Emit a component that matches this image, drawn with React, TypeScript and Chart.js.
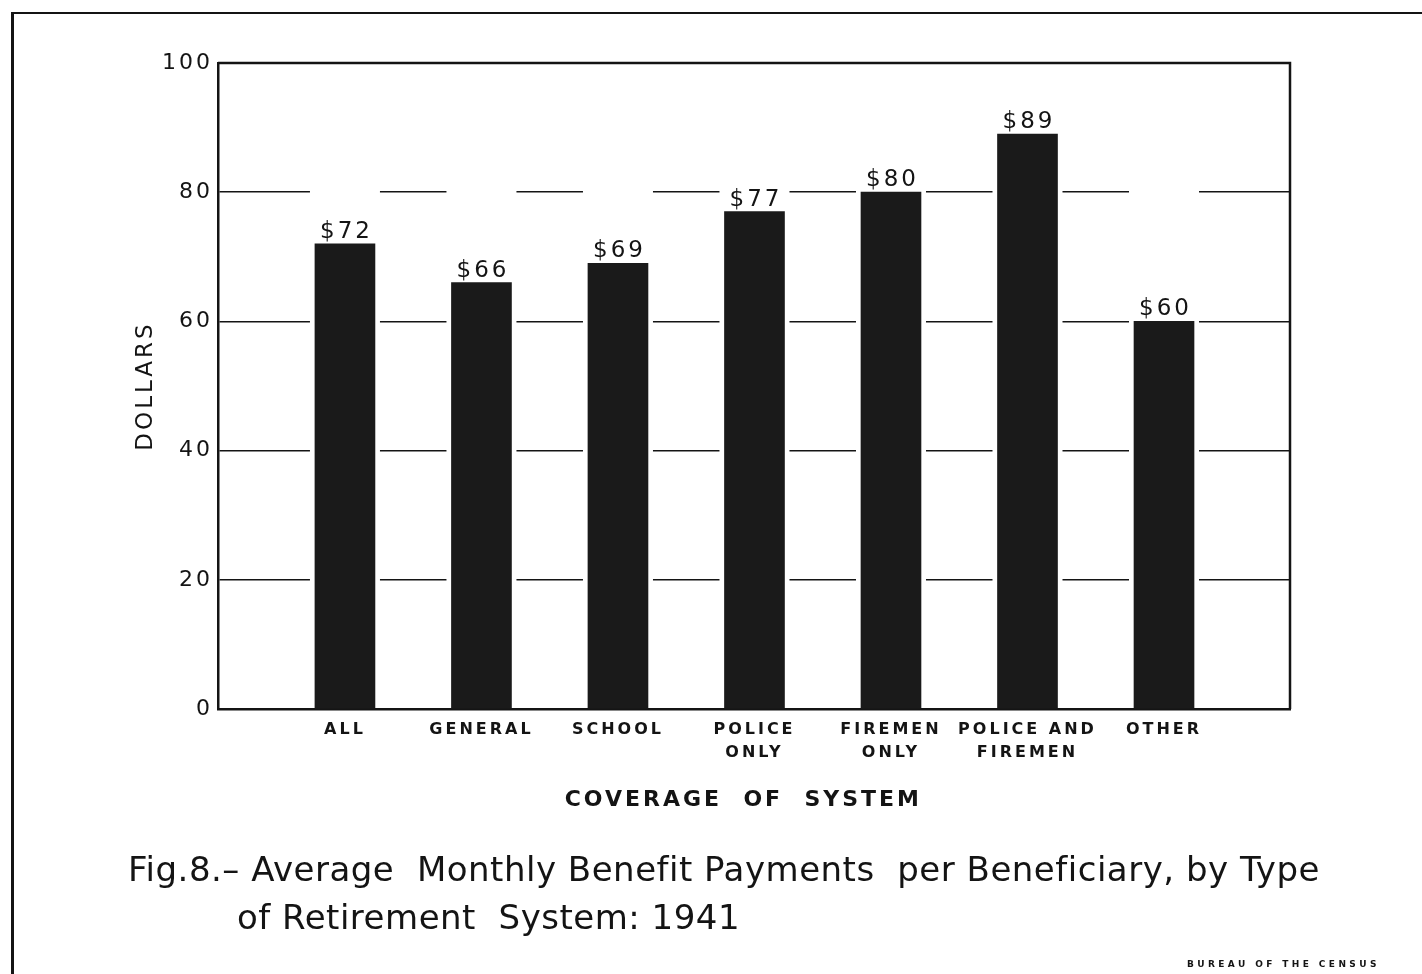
import { useEffect, useRef } from "react";
import { Chart, registerables } from "chart.js";

Chart.register(...registerables);

const categories: string[][] = [
  ["ALL"],
  ["GENERAL"],
  ["SCHOOL"],
  ["POLICE", "ONLY"],
  ["FIREMEN", "ONLY"],
  ["POLICE AND", "FIREMEN"],
  ["OTHER"],
];
const values: number[] = [72, 66, 69, 77, 80, 89, 60];
const valueLabels: string[] = ["$72", "$66", "$69", "$77", "$80", "$89", "$60"];
const yTicks: number[] = [0, 20, 40, 60, 80, 100];

const FONT = '"DejaVu Sans", "Liberation Sans", sans-serif';
const INK = "#141414";

const decor = {
  id: "decor",
  beforeLayout(chart: any) {
    chart.ctx.letterSpacing = "3px";
  },
  beforeDraw(chart: any) {
    chart.ctx.letterSpacing = "3px";
  },
  beforeDatasetsDraw(chart: any) {
    const { ctx, chartArea } = chart;
    const meta = chart.getDatasetMeta(0);
    ctx.save();
    ctx.fillStyle = "#ffffff";
    meta.data.forEach((bar: any) => {
      const w = bar.width;
      ctx.fillRect(bar.x - w / 2 - 5, chartArea.top + 2, w + 10, chartArea.bottom - chartArea.top - 4);
    });
    ctx.restore();
  },
  afterDatasetsDraw(chart: any) {
    const { ctx, chartArea } = chart;
    ctx.save();
    ctx.strokeStyle = INK;
    ctx.lineWidth = 2.5;
    ctx.beginPath();
    ctx.moveTo(chartArea.left, chartArea.top);
    ctx.lineTo(chartArea.right, chartArea.top);
    ctx.lineTo(chartArea.right, chartArea.bottom);
    ctx.stroke();
    ctx.letterSpacing = "3px";
    ctx.fillStyle = INK;
    ctx.font = `normal 23px ${FONT}`;
    ctx.textAlign = "center";
    ctx.textBaseline = "alphabetic";
    const meta = chart.getDatasetMeta(0);
    meta.data.forEach((bar: any, i: number) => {
      ctx.fillText(valueLabels[i], bar.x + 1.5, bar.y - 6);
    });
    ctx.restore();
  },
};

export default function App() {
  const ref = useRef<HTMLCanvasElement | null>(null);

  useEffect(() => {
    if (!ref.current) return;
    const chart = new Chart(ref.current, {
      type: "bar",
      data: {
        datasets: [
          {
            data: values.map((v, i) => ({ x: i, y: v })),
            backgroundColor: "#1a1a1a",
            borderWidth: 0,
            barThickness: 60,
          },
        ],
      },
      options: {
        responsive: false,
        animation: false,
        layout: { padding: { left: 0, top: 63, right: 132, bottom: 155 } },
        plugins: {
          legend: { display: false },
          title: { display: false },
          tooltip: { enabled: false },
        },
        scales: {
          x: {
            type: "linear",
            min: -0.93,
            max: 6.923,
            offset: false,
            afterBuildTicks: (scale: any) => {
              scale.ticks = categories.map((_, i) => ({ value: i }));
            },
            afterFit: (scale: any) => {
              scale.height = 110;
            },
            grid: { display: false, drawTicks: false, offset: false },
            border: { display: true, color: INK, width: 2.5 },
            ticks: {
              autoSkip: false,
              maxRotation: 0,
              minRotation: 0,
              padding: 9,
              color: INK,
              font: { family: FONT, size: 16, weight: "bold", lineHeight: 1.44 },
              callback: (v: any) => categories[v as number] ?? "",
            },
            title: {
              display: true,
              text: "COVERAGE  OF  SYSTEM  ",
              color: INK,
              font: { family: FONT, size: 22, weight: "bold", lineHeight: 1.2 },
              padding: { top: 0, bottom: 6 },
            },
          },
          y: {
            min: 0,
            max: 100,
            afterBuildTicks: (scale: any) => {
              scale.ticks = yTicks.map((v) => ({ value: v }));
            },
            afterFit: (scale: any) => {
              scale.width = 218;
            },
            grid: { color: INK, lineWidth: 1.5, drawTicks: false },
            border: { display: true, color: INK, width: 2.5 },
            ticks: {
              padding: 5,
              color: INK,
              font: { family: FONT, size: 22, weight: "normal" },
            },
            title: {
              display: true,
              text: "DOLLARS",
              color: INK,
              font: { family: FONT, size: 23, weight: "normal", lineHeight: 1.2 },
              padding: { top: 132, bottom: 0 },
            },
          },
        },
      },
      plugins: [decor],
    });
    return () => chart.destroy();
  }, []);

  const titleStyle = {
    position: "absolute" as const,
    fontFamily: '"DejaVu Sans", sans-serif',
    fontSize: 34,
    lineHeight: "40px",
    whiteSpace: "pre" as const,
    color: INK,
    letterSpacing: "0.5px",
  };

  return (
    <div
      style={{
        position: "fixed",
        left: 0,
        top: 0,
        width: 1422,
        height: 974,
        background: "#ffffff",
        overflow: "hidden",
      }}
    >
      <div
        style={{
          position: "absolute",
          left: 11,
          top: 12,
          width: 1420,
          height: 970,
          borderLeft: `3px solid ${INK}`,
          borderTop: `2.5px solid ${INK}`,
        }}
      />
      <canvas
        ref={ref}
        width={1422}
        height={974}
        style={{ position: "absolute", left: 0, top: 0, width: 1422, height: 974, display: "block" }}
      />
      <div style={{ ...titleStyle, left: 128, top: 849 }}>
        {"Fig.8.– Average  Monthly Benefit Payments  per Beneficiary, by Type"}
      </div>
      <div style={{ ...titleStyle, left: 237, top: 897 }}>
        {"of Retirement  System: 1941"}
      </div>
      <div
        style={{
          position: "absolute",
          left: 1187,
          top: 958,
          fontFamily: FONT,
          fontSize: 9,
          fontWeight: "bold",
          lineHeight: "12px",
          letterSpacing: "3.4px",
          whiteSpace: "pre",
          color: INK,
        }}
      >
        {"BUREAU OF THE CENSUS"}
      </div>
    </div>
  );
}
